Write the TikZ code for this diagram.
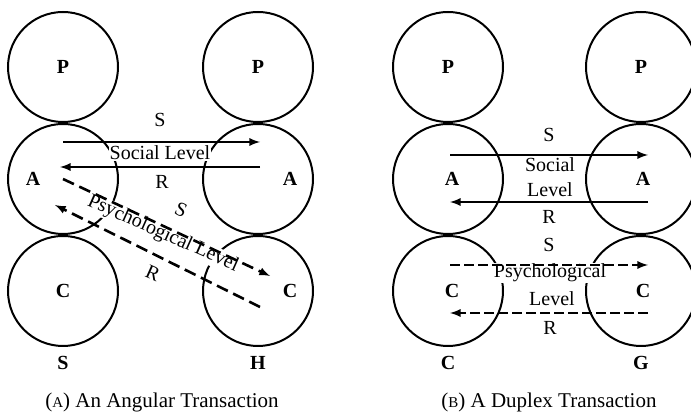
\documentclass[tikz,border=0pt]{standalone}
\usepackage{fontspec}
\setmainfont{Liberation Serif}
\usetikzlibrary{arrows, positioning}

\begin{document}
\begin{tikzpicture}[x=1pt, y=1pt,
            ego/.style={circle, draw, line width=2pt, minimum size=110pt, inner sep=0pt},
            letter/.style={font=\fontsize{20}{22}\selectfont\bfseries},
            lbl/.style={font=\fontsize{20}{22}\selectfont, inner sep=1pt},
            msg/.style={line width=2.6pt, -latex},
            hidden/.style={msg, dash pattern=on 12pt off 6pt}]
            \useasboundingbox (0,0) rectangle (691,414);
            % (A) angular transaction
            \node[ego] (ap1) at (63,347) {};
            \node[ego] (aa1) [below=0pt of ap1] {};
            \node[ego] (ac1) [below=0pt of aa1] {};
            \node[ego] (ap2) at (258,347) {};
            \node[ego] (aa2) [below=0pt of ap2] {};
            \node[ego] (ac2) [below=0pt of aa2] {};
            \node[letter] (ap1t) at (ap1) {P};
            \node[letter] (ap2t) at (ap2) {P};
            \node[letter] (aa1t) at ([xshift=-30pt]aa1.center) {A};
            \node[letter] (aa2t) at ([xshift=32pt]aa2.center) {A};
            \node[letter] (ac1t) at (ac1) {C};
            \node[letter] (ac2t) at ([xshift=32pt]ac2.center) {C};
            \node[letter] (asend) [below=6pt of ac1] {S};
            \node[letter] (arecv) [below=6pt of ac2] {H};

            \node[lbl, fill=white] (asoc) at (160,261) {Social Level};
            \node[lbl, fill=white, rotate=-24] (apsy) at (163,180) {Psychological Level};
            \path[msg] ([yshift=37pt]aa1.center) edge ([xshift=2pt,yshift=37pt]aa2.center);
            \path[msg] ([xshift=2pt,yshift=12pt]aa2.center) edge ([xshift=-3pt,yshift=12pt]aa1.center);
            \path[hidden] (aa1.center) edge ([xshift=12pt,yshift=15pt]ac2.center);
            \path[hidden] ([xshift=2pt,yshift=-16pt]ac2.center) edge ([xshift=-8pt,yshift=-26pt]aa1.center);
            \node[lbl] (as) at (160,294) {S};
            \node[lbl] (ar) at (162,232) {R};
            \node[lbl, rotate=-24] (ads) at (181,204) {S};
            \node[lbl, rotate=-24] (adr) at (153,141) {R};
            \node[lbl, font=\fontsize{21}{23}\selectfont] (acap) at (162,12) {({\fontsize{15}{15}\selectfont A}) An Angular Transaction};

            % (B) duplex transaction
            \node[ego] (dp1) at (448,347) {};
            \node[ego] (da1) [below=0pt of dp1] {};
            \node[ego] (dc1) [below=0pt of da1] {};
            \node[ego] (dp2) at (641,347) {};
            \node[ego] (da2) [below=0pt of dp2] {};
            \node[ego] (dc2) [below=0pt of da2] {};
            \node[letter] (dp1t) at (dp1) {P};
            \node[letter] (dp2t) at (dp2) {P};
            \node[letter] (da1t) at ([xshift=4pt]da1.center) {A};
            \node[letter] (da2t) at ([xshift=2pt]da2.center) {A};
            \node[letter] (dc1t) at ([xshift=4pt]dc1.center) {C};
            \node[letter] (dc2t) at ([xshift=2pt]dc2.center) {C};
            \node[letter] (dsend) [below=6pt of dc1] {C};
            \node[letter] (drecv) [below=6pt of dc2] {G};

            \node[lbl, fill=white] (dsoc1) at (550,249) {Social};
            \node[lbl, fill=white] (dsoc2) at (550,224) {Level};
            \node[lbl, fill=white] (dpsy1) at (550,141) {Psychological};
            \node[lbl, fill=white] (dpsy2) at (552,115) {Level};
            \path[msg] ([xshift=2pt,yshift=24pt]da1.center) edge ([xshift=7pt,yshift=24pt]da2.center);
            \path[msg] ([xshift=7pt,yshift=-23pt]da2.center) edge ([xshift=2pt,yshift=-23pt]da1.center);
            \path[hidden, dash pattern=on 10pt off 4pt] ([xshift=2pt,yshift=26pt]dc1.center) edge ([xshift=7pt,yshift=26pt]dc2.center);
            \path[hidden, dash pattern=on 10pt off 4pt] ([xshift=7pt,yshift=-22pt]dc2.center) edge ([xshift=2pt,yshift=-22pt]dc1.center);
            \node[lbl] (ds) at (549,279) {S};
            \node[lbl] (dr) at (549,197) {R};
            \node[lbl] (dds) at (549,169) {S};
            \node[lbl] (ddr) at (550,86) {R};
            \node[lbl, font=\fontsize{21}{23}\selectfont] (dcap) at (549,12) {({\fontsize{15}{15}\selectfont B}) A Duplex Transaction};
        \end{tikzpicture}
\end{document}
